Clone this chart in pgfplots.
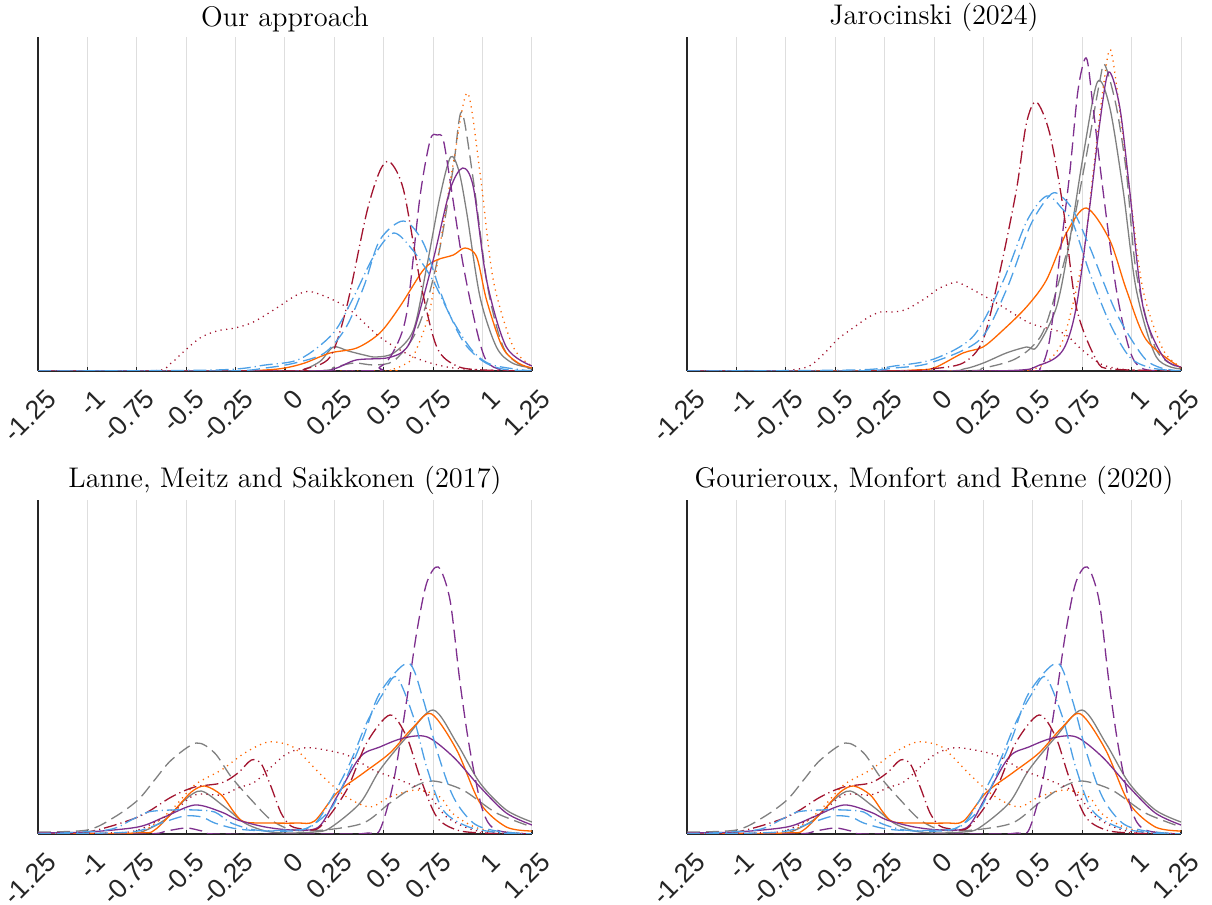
\documentclass[border=0pt]{standalone}
\usepackage{fontspec}
\usepackage{pgfplots}
\pgfplotsset{compat=1.18}
\newfontfamily\arialf{Liberation Sans}
\definecolor{cgray}{RGB}{128,128,128}
\definecolor{corange}{RGB}{255,102,0}
\definecolor{cpurple}{RGB}{126,47,142}
\definecolor{cred}{RGB}{162,20,47}
\definecolor{cblue}{RGB}{77,160,230}
\pgfplotsset{
  dsh/.style={dash pattern=on 6.5pt off 3pt},
  dtt/.style={dash pattern=on 0.6pt off 2.2pt},
  dd/.style={dash pattern=on 6.5pt off 2pt on 0.6pt off 2pt},
  panel/.style={
    scale only axis, width=247pt, height=167pt,
    xmin=-1.25, xmax=1.25, ymin=0, ymax=334,
    axis x line*=bottom, axis y line*=left,
    axis line style={-, line width=0.6pt, color=black!85},
    xtick={-1.25,-1,-0.75,-0.5,-0.25,0,0.25,0.5,0.75,1,1.25},
    xticklabels={-1.25,-1,-0.75,-0.5,-0.25,0,0.25,0.5,0.75,1,1.25},
    ytick=\empty, xmajorgrids,
    grid style={line width=0.5pt, color=black!13},
    tick align=inside, major tick length=2pt,
    tick style={black!85, line width=0.6pt},
    xticklabel style={font=\arialf\fontsize{13.3}{13.3}\selectfont, text=black!85, xshift=9pt, yshift=-9.3pt, rotate=45, anchor=east},
    title style={font=\fontsize{14.2}{16}\selectfont, yshift=-7pt},
    every axis plot/.append style={line width=0.65pt, smooth, no markers},
  }
}
\newcommand\bottomcurves{%
% gray solid
\addplot[cgray] coordinates {(-1.25,0) (-0.9,0) (-0.744,1) (-0.61,14) (-0.508,34) (-0.423,43) (-0.305,27) (-0.204,11) (-0.1,3) (0,1) (0.15,2) (0.228,6) (0.38,31) (0.48,64) (0.616,97) (0.75,124) (0.869,91) (0.987,51) (1.12,24) (1.25,12)};
% gray dashed
\addplot[cgray,dsh] coordinates {(-1.25,2) (-1.0,4) (-0.862,17) (-0.744,34) (-0.66,54) (-0.575,74) (-0.449,91) (-0.356,81) (-0.272,57) (-0.17,34) (-0.07,14) (0.04,4) (0.2,4) (0.397,11) (0.531,31) (0.65,47) (0.75,53) (0.9,44) (1.07,21) (1.25,7)};
% orange solid
\addplot[corange] coordinates {(-1.25,0) (-0.744,1) (-0.66,4) (-0.558,24) (-0.474,42) (-0.406,48) (-0.322,39) (-0.255,21) (-0.204,12) (-0.07,11) (0.065,11) (0.15,13) (0.262,41) (0.397,61) (0.531,81) (0.65,107) (0.742,120) (0.869,84) (0.987,31) (1.12,7) (1.25,3)};
% orange dotted
\addplot[corange,dtt] coordinates {(-1.25,0) (-0.8,0) (-0.7,5) (-0.575,24) (-0.457,49) (-0.322,64) (-0.204,81) (-0.086,92) (0.02,89) (0.076,81) (0.194,57) (0.312,37) (0.43,27) (0.53,37) (0.666,44) (0.784,37) (0.852,20) (0.99,5) (1.25,0)};
% purple solid
\addplot[cpurple] coordinates {(-1.25,1) (-1,2) (-0.744,7) (-0.61,17) (-0.457,29) (-0.322,22) (-0.238,14) (-0.1,7) (0.04,4) (0.17,7) (0.262,37) (0.38,77) (0.48,87) (0.6,96) (0.72,97) (0.852,77) (0.987,47) (1.12,21) (1.25,9)};
% purple dashed
\addplot[cpurple,dsh] coordinates {(-1.25,0) (-0.7,0) (-0.6,3) (-0.5,6) (-0.42,3) (-0.35,0) (0.3,0) (0.42,1) (0.48,4) (0.548,51) (0.616,134) (0.666,201) (0.717,251) (0.776,267) (0.835,234) (0.886,151) (0.936,84) (1.0,24) (1.07,4) (1.25,0)};
% dark red dash-dot
\addplot[cred,dd] coordinates {(-1.25,0) (-1,2) (-0.744,17) (-0.575,37) (-0.457,47) (-0.322,51) (-0.238,61) (-0.17,74) (-0.12,70) (-0.07,47) (-0.02,21) (0.03,8) (0.1,5) (0.177,7) (0.312,44) (0.413,91) (0.531,119) (0.616,97) (0.683,57) (0.768,17) (0.87,4) (1.0,1) (1.25,0)};
% dark red dotted
\addplot[cred,dtt] coordinates {(-1.25,0) (-0.9,1) (-0.744,4) (-0.575,21) (-0.457,39) (-0.32,39) (-0.238,46) (-0.153,52) (-0.07,67) (0.0,79) (0.07,85) (0.143,86) (0.312,79) (0.447,64) (0.582,54) (0.717,41) (0.818,17) (0.953,4) (1.1,1) (1.25,0)};
% blue dashed
\addplot[cblue,dsh] coordinates {(-1.25,0) (-0.9,1) (-0.744,3) (-0.61,12) (-0.508,18) (-0.42,17) (-0.356,11) (-0.24,5) (-0.07,3) (0.1,5) (0.228,24) (0.312,57) (0.397,97) (0.48,141) (0.624,171) (0.7,134) (0.768,84) (0.852,37) (0.953,11) (1.07,3) (1.25,0)};
% blue dash-dot
\addplot[cblue,dd] coordinates {(-1.25,0) (-0.9,4) (-0.778,14) (-0.693,22) (-0.575,24) (-0.457,24) (-0.356,22) (-0.272,11) (-0.15,4) (0,4) (0.15,10) (0.312,64) (0.413,111) (0.498,141) (0.565,157) (0.65,117) (0.717,67) (0.8,24) (0.93,7) (1.1,1) (1.25,0)};
}
\begin{document}
\begin{tikzpicture}
\useasboundingbox (0,0) rectangle (606pt,452.5pt);
% ---------------- Top left
\begin{axis}[panel, at={(19pt,267pt)}, anchor=south west, title={Our approach}]
\addplot[cgray] coordinates {(-1.25,0) (0,0) (0.1,2) (0.18,10) (0.245,24) (0.32,20) (0.4,16) (0.46,14) (0.55,18) (0.65,41) (0.717,104) (0.784,174) (0.838,214) (0.88,200) (0.92,158) (0.987,74) (1.07,24) (1.15,8) (1.25,3)};
\addplot[cgray,dsh] coordinates {(-1.25,0) (0.1,0) (0.25,4) (0.35,8) (0.45,6) (0.55,10) (0.65,34) (0.72,70) (0.785,124) (0.852,204) (0.894,259) (0.953,191) (1.02,91) (1.07,45) (1.12,18) (1.2,5) (1.25,2)};
\addplot[corange] coordinates {(-1.25,0) (-0.3,0) (-0.1,1) (0,3) (0.1,8) (0.228,18) (0.363,23) (0.48,38) (0.58,64) (0.70,101) (0.768,111) (0.852,116) (0.911,123) (0.97,114) (1.02,71) (1.10,24) (1.18,8) (1.25,3)};
\addplot[corange,dtt] coordinates {(-1.25,0) (0.45,0) (0.53,1) (0.6,6) (0.65,15) (0.73,58) (0.78,120) (0.852,208) (0.923,278) (0.987,198) (1.054,91) (1.155,24) (1.25,5)};
\addplot[cpurple] coordinates {(-1.25,0) (0.1,0) (0.245,2) (0.36,11) (0.515,13) (0.6,20) (0.65,38) (0.75,111) (0.835,181) (0.899,203) (0.953,184) (1.02,91) (1.12,24) (1.25,5)};
\addplot[cpurple,dsh] coordinates {(-1.25,0) (0.35,0) (0.48,4) (0.55,20) (0.616,58) (0.683,174) (0.735,231) (0.77,236) (0.8,232) (0.835,191) (0.9,108) (0.97,41) (1.02,10) (1.1,1) (1.25,0)};
\addplot[cred,dd] coordinates {(-1.25,0) (0,0) (0.1,2) (0.228,14) (0.312,64) (0.413,158) (0.48,200) (0.531,209) (0.6,181) (0.683,91) (0.768,24) (0.87,5) (1,1) (1.25,0)};
\addplot[cred,dtt] coordinates {(-1.25,0) (-0.675,0) (-0.582,7) (-0.515,19) (-0.43,33) (-0.346,40) (-0.253,43) (-0.16,49) (-0.05,62) (0.06,76) (0.14,79) (0.31,64) (0.48,34) (0.65,14) (0.82,4) (1.0,1) (1.25,0)};
\addplot[cblue,dsh] coordinates {(-1.25,0) (-0.3,0) (-0.1,3) (0.05,8) (0.2,18) (0.31,44) (0.4,85) (0.48,131) (0.6,150) (0.7,128) (0.8,72) (0.9,30) (1.0,10) (1.1,2) (1.25,0)};
\addplot[cblue,dd] coordinates {(-1.25,0) (-0.35,1) (-0.1,6) (0.076,12) (0.245,38) (0.35,75) (0.45,115) (0.55,138) (0.65,120) (0.75,90) (0.85,50) (0.95,20) (1.05,6) (1.25,0)};
\end{axis}
% ---------------- Top right
\begin{axis}[panel, at={(343.5pt,267pt)}, anchor=south west, title={Jarocinski (2024)}]
\addplot[cgray] coordinates {(-1.25,0) (0,0) (0.15,2) (0.25,8) (0.366,18) (0.468,24) (0.52,24) (0.62,64) (0.687,131) (0.754,214) (0.827,289) (0.889,264) (0.957,181) (1.024,81) (1.125,14) (1.25,2)};
\addplot[cgray,dsh] coordinates {(-1.25,0) (0.1,0) (0.25,3) (0.4,11) (0.5,25) (0.57,48) (0.687,131) (0.77,214) (0.84,291) (0.865,306) (0.923,264) (0.974,198) (1.024,98) (1.125,21) (1.25,3)};
\addplot[corange] coordinates {(-1.25,0) (-0.3,0) (-0.1,1) (0,3) (0.147,18) (0.248,24) (0.35,41) (0.468,64) (0.569,91) (0.67,138) (0.771,163) (0.889,131) (0.974,81) (1.075,31) (1.25,3)};
\addplot[corange,dtt] coordinates {(-1.25,0) (0.4,0) (0.468,1) (0.55,6) (0.653,31) (0.754,114) (0.805,198) (0.855,281) (0.894,321) (0.948,248) (0.99,181) (1.058,81) (1.16,21) (1.25,4)};
\addplot[cpurple] coordinates {(-1.25,0) (0.3,0) (0.535,6) (0.653,21) (0.72,64) (0.788,164) (0.839,248) (0.884,299) (0.94,264) (0.99,181) (1.058,64) (1.16,14) (1.25,4)};
\addplot[cpurple,dsh] coordinates {(-1.25,0) (0.45,0) (0.535,2) (0.585,31) (0.636,114) (0.687,198) (0.729,281) (0.771,313) (0.805,264) (0.855,181) (0.923,81) (0.99,21) (1.06,2) (1.25,0)};
\addplot[cred,dd] coordinates {(-1.25,0) (-0.2,0) (-0.02,2) (0.147,8) (0.248,31) (0.332,98) (0.417,181) (0.468,248) (0.518,269) (0.585,238) (0.653,164) (0.72,64) (0.822,11) (0.9,2) (1.25,0)};
\addplot[cred,dtt] coordinates {(-1.25,0) (-0.8,0) (-0.72,1) (-0.63,5) (-0.553,18) (-0.486,32) (-0.41,43) (-0.33,54) (-0.27,59) (-0.207,59) (-0.148,61) (-0.09,67) (-0.034,74) (0.02,82) (0.08,87) (0.13,88) (0.316,68) (0.484,48) (0.652,38) (0.75,21) (0.855,6) (1.0,1) (1.25,0)};
\addplot[cblue,dsh] coordinates {(-1.25,0) (-0.4,0) (-0.2,3) (-0.02,8) (0.23,31) (0.366,81) (0.484,144) (0.57,172) (0.62,178) (0.7,162) (0.788,124) (0.923,58) (1.06,14) (1.15,3) (1.25,0)};
\addplot[cblue,dd] coordinates {(-1.25,0) (-0.4,1) (-0.2,5) (0,12) (0.2,35) (0.35,90) (0.47,150) (0.57,175) (0.65,162) (0.703,148) (0.788,98) (0.889,48) (0.99,14) (1.1,3) (1.25,0)};
\end{axis}
% ---------------- Bottom left
\begin{axis}[panel, at={(19pt,35.5pt)}, anchor=south west, title={Lanne, Meitz and Saikkonen (2017)}]
\bottomcurves
\end{axis}
% ---------------- Bottom right
\begin{axis}[panel, at={(343.5pt,35.5pt)}, anchor=south west, title={Gourieroux, Monfort and Renne (2020)}]
\bottomcurves
\end{axis}
\end{tikzpicture}
\end{document}
